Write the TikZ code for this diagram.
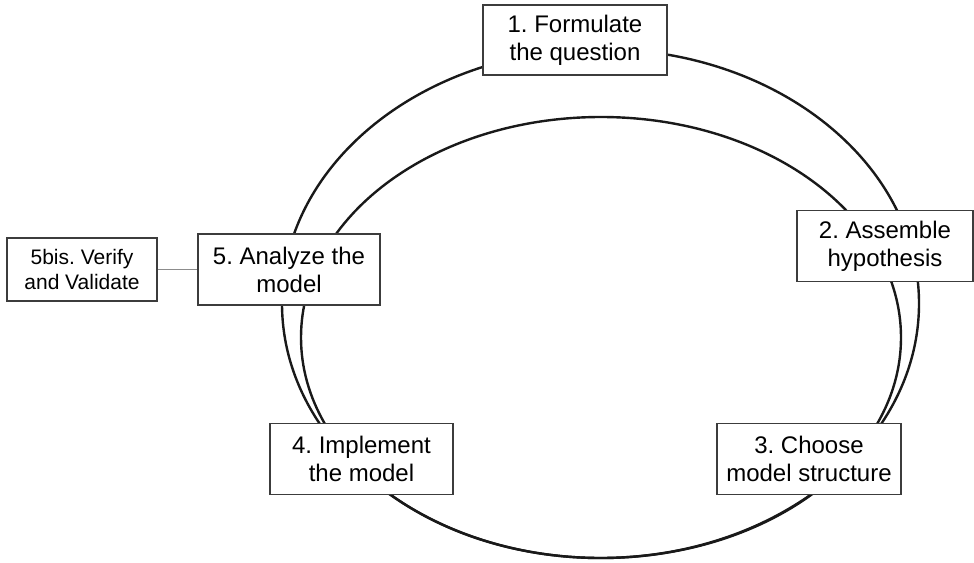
\documentclass[tikz,border=0pt]{standalone}
\usepackage{fontspec}
\setmainfont{Liberation Sans}
\usepackage{tikz}
\usetikzlibrary{positioning}
\definecolor{boxline}{RGB}{60,60,60}
\definecolor{linkgray}{RGB}{140,140,140}
\tikzset{
  stage/.style={draw=boxline,line width=0.7pt,fill=white,align=center,
    inner sep=0pt,font=\fontsize{12}{14}\selectfont},
  side/.style={stage,font=\fontsize{10.5}{12.5}\selectfont},
  loop/.style={line width=1.2pt,black!90}
}
\frenchspacing

\begin{document}
\begin{tikzpicture}[x=0.5pt,y=-0.5pt]
  \useasboundingbox (0,0) rectangle (974,562);
  % the two cycles
  \draw[loop] (600.5,303.5) ellipse [x radius=159.25pt, y radius=127.25pt];
  \draw[loop] (601,337.5) ellipse [x radius=150pt, y radius=110.25pt];
  % stages
  \node[stage,minimum width=92pt,minimum height=35pt] (formulate) at (575,40)
    {1. Formulate\\the question};
  \node[stage,minimum width=88pt,minimum height=35.5pt] (assemble) at (885,246)
    {2. Assemble\\hypothesis};
  \node[stage,minimum width=92pt,minimum height=35.5pt] (choose) at (809,459)
    {3. Choose\\model structure};
  \node[stage,minimum width=91.5pt,minimum height=35.5pt] (implement) at (361.5,459)
    {4. Implement\\the model};
  \node[stage,minimum width=91pt,minimum height=35.5pt] (analyze) at (289,269.5)
    {5. Analyze the\\model};
  \node[side,minimum width=75pt,minimum height=31.5pt] (verify) at (82,269.5)
    {5bis. Verify\\and Validate};
  \draw[linkgray,line width=0.8pt] (verify) -- (analyze);
\end{tikzpicture}
\end{document}
